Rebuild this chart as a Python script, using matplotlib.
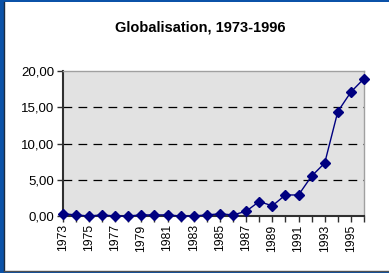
import matplotlib
matplotlib.use("Agg")
import matplotlib.pyplot as plt
from matplotlib.patches import Rectangle
from matplotlib.lines import Line2D

years = list(range(1973, 1997))
values = [0.32, 0.15, 0.0, 0.15, 0.0, 0.0, 0.15, 0.15, 0.15, 0.0, 0.0, 0.15,
          0.30, 0.15, 0.65, 2.0, 1.4, 2.9, 2.9, 5.5, 7.3, 14.4, 17.1, 18.95]
yticks = [0, 5, 10, 15, 20]
ytick_labels = ["0,00", "5,00", "10,00", "15,00", "20,00"]
title = "Globalisation, 1973-1996"

plt.rcParams['font.family'] = ['Liberation Sans', 'DejaVu Sans']

W, H = 389, 273
fig = plt.figure(figsize=(W / 100, H / 100), dpi=100, facecolor="#0b52a8")
# white panel
fig.patches.append(Rectangle((4 / W, 2 / H), (W - 4) / W, (H - 4) / H,
                             transform=fig.transFigure, facecolor="white",
                             edgecolor="none", zorder=-2))
fig.lines.append(Line2D([3.5 / W, 3.5 / W], [2 / H, 1 - 2 / H], transform=fig.transFigure,
                        color="#1a2a40", lw=1.0, zorder=-1))
fig.lines.append(Line2D([4 / W, 1], [2 / H, 2 / H], transform=fig.transFigure,
                        color="#505050", lw=1.0, zorder=-1))

ax = fig.add_axes([62.7 / W, 57 / H, (364 - 62.7) / W, (216 - 71) / H])
ax.set_zorder(2)
ax.set_facecolor("#e2e2e2")
x = list(range(len(years)))
ax.plot(x, values, color="#000080", lw=1.0, marker="D", markersize=5,
        markerfacecolor="#000080", markeredgecolor="#000080", zorder=3, clip_on=False)

ax.set_xlim(0, len(years) - 1)
ax.set_ylim(0, 20)
ax.set_yticks(yticks)
ax.set_yticklabels(ytick_labels, fontsize=9.5)
ax.set_xticks(x)
ax.set_xticklabels([str(y) if i % 2 == 0 else "" for i, y in enumerate(years)],
                   rotation=90, fontsize=8.8)
ax.tick_params(axis="both", direction="out", length=4, width=1, color="#303030", pad=2)

for v in yticks[1:-1]:
    ax.axhline(v, color="black", lw=0.9, ls=(0, (7, 5)), zorder=1)

for s in ["top", "right"]:
    ax.spines[s].set_color("#a0a0a0")
    ax.spines[s].set_linewidth(1.0)
for s in ["left", "bottom"]:
    ax.spines[s].set_color("#303030")
    ax.spines[s].set_linewidth(1.5)

fig.text(200 / W, 1 - 28 / H, title, ha="center", va="center", fontsize=10.5, fontweight="bold")

fig.savefig("out.png", dpi=100, facecolor=fig.get_facecolor())
